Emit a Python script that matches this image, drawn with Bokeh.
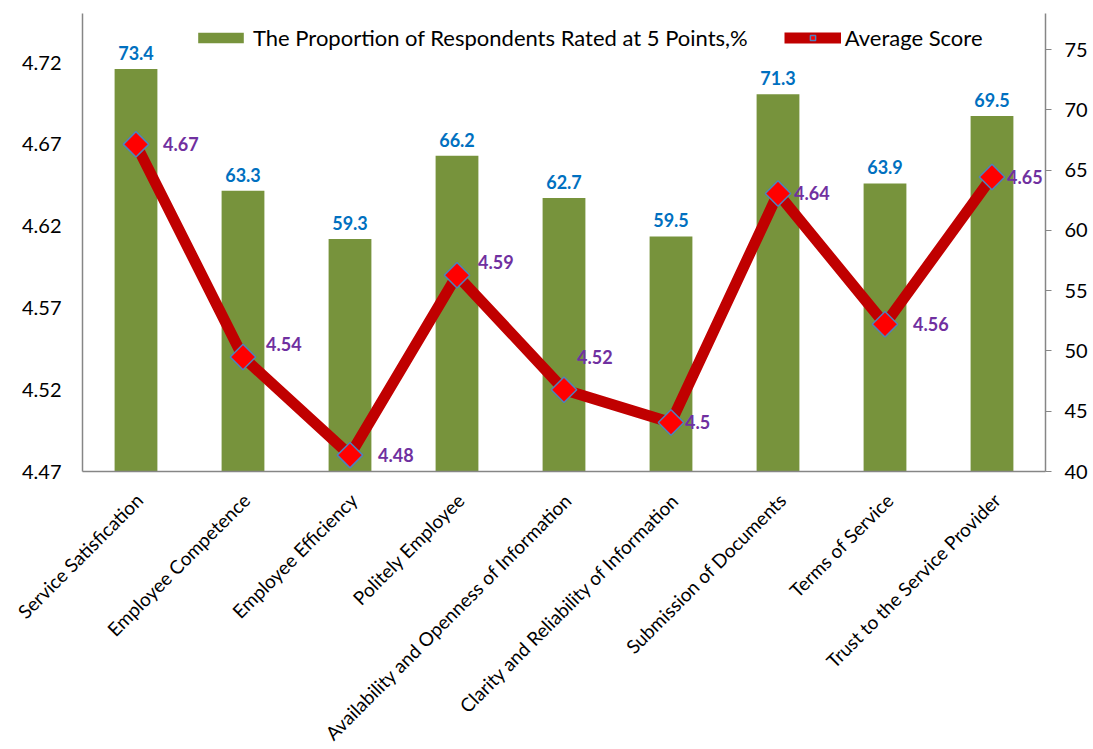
import math
from bokeh.plotting import figure
from bokeh.layouts import column
from bokeh.models import (Range1d, LinearAxis, FixedTicker, ColumnDataSource, Legend,
                          LegendItem)
from bokeh.core.properties import value
from bokeh.embed import file_html
from bokeh.resources import INLINE

categories = ["Service Satisfication", "Employee Competence", "Employee Efficiency",
              "Politely Employee", "Availability and Openness of Information",
              "Clarity and Reliability of Information", "Submission of Documents",
              "Terms of Service", "Trust to the Service Provider"]
proportion = [73.4, 63.3, 59.3, 66.2, 62.7, 59.5, 71.3, 63.9, 69.5]
avg_score = [4.67, 4.54, 4.48, 4.59, 4.52, 4.5, 4.64, 4.56, 4.65]
left_ticks = [4.47, 4.52, 4.57, 4.62, 4.67, 4.72]
right_ticks = [40, 45, 50, 55, 60, 65, 70, 75]

# label placement offsets (screen px; positive dy = down) for the score labels
score_dx = [27, 23, 28, 21, 13, 14, 16, 28, 15]
score_dy = [0, -13, 0, -13, -33, 0, 0, 0, 0]

FONT = "Lato"
xs = [i + 0.5 for i in range(len(categories))]

# layout (px)
W = 1090
B_LEFT, B_RIGHT, B_TOP, B_BOTTOM = 82, 43, 13, 14
FRAME_H = 458
MAIN_H = B_TOP + FRAME_H + B_BOTTOM
STRIP_H = 749 - MAIN_H
LABEL_DROP = 25   # px below the x axis line to the end of each category label

p = figure(width=W, height=MAIN_H, output_backend="svg", toolbar_location=None,
           x_range=Range1d(0, len(categories)), y_range=Range1d(4.47, 4.75),
           min_border_left=B_LEFT, min_border_right=B_RIGHT, min_border_top=B_TOP,
           min_border_bottom=B_BOTTOM)
p.frame_align = False
p.outline_line_color = None
p.grid.visible = False
p.extra_y_ranges = {"pct": Range1d(40, 78)}

bar_src = ColumnDataSource(dict(x=xs, top=proportion, lbl=[f"{v:g}" for v in proportion]))
bars = p.vbar(x="x", top="top", bottom=40, width=0.4, y_range_name="pct", source=bar_src,
              fill_color="#77933C", line_color=None)
p.text(x="x", y="top", text="lbl", source=bar_src, y_range_name="pct",
       text_align="center", text_baseline="bottom", y_offset=-9,
       text_color="#0070C0", text_font=value(FONT), text_font_size="18px", text_font_style="bold")

line_src = ColumnDataSource(dict(x=xs, y=avg_score, lbl=[f"{v:g}" for v in avg_score],
                                 dx=score_dx, dy=score_dy))
ln = p.line(x="x", y="y", source=line_src, line_color="#C00000", line_width=11)
mk = p.scatter(x="x", y="y", source=line_src, marker="square", size=18, angle=math.pi / 4,
               fill_color="#FF0000", line_color="#4F81BD", line_width=1.5)
p.text(x="x", y="y", text="lbl", source=line_src, x_offset="dx", y_offset="dy",
       text_align="left", text_baseline="middle",
       text_color="#7030A0", text_font=value(FONT), text_font_size="18px", text_font_style="bold")

# axes
p.xaxis.ticker = FixedTicker(ticks=xs)
p.xaxis.major_label_overrides = {x: "" for x in xs}
p.xaxis.major_label_text_font_size = "0px"
p.xaxis.major_label_standoff = 0
p.xaxis.major_tick_line_color = None
p.xaxis.major_tick_out = 0
p.xaxis.minor_tick_line_color = None
p.xaxis.axis_line_color = "#868686"
p.xaxis.axis_line_width = 1.5

p.yaxis.ticker = FixedTicker(ticks=left_ticks)
p.yaxis.major_tick_line_color = None
p.yaxis.major_tick_out = 0
p.yaxis.minor_tick_line_color = None
p.yaxis.axis_line_color = "#868686"
p.yaxis.axis_line_width = 1.5
p.yaxis.major_label_text_font = FONT
p.yaxis.major_label_text_font_size = "20px"
p.yaxis.major_label_text_color = "#000000"
p.yaxis.major_label_standoff = 21

ra = LinearAxis(y_range_name="pct", ticker=FixedTicker(ticks=right_ticks))
ra.major_tick_out = 6
ra.major_tick_in = 0
ra.major_tick_line_color = "#868686"
ra.minor_tick_line_color = None
ra.axis_line_color = "#868686"
ra.axis_line_width = 1.5
ra.major_label_text_font = FONT
ra.major_label_text_font_size = "20px"
ra.major_label_text_color = "#000000"
ra.major_label_standoff = 13
p.add_layout(ra, "right")

legend = Legend(items=[
    LegendItem(label="The Proportion of Respondents Rated at 5 Points,%", renderers=[bars]),
    LegendItem(label="Average Score", renderers=[ln, mk]),
], location=(110, 420), orientation="horizontal")
legend.border_line_color = None
legend.background_fill_alpha = 0
legend.label_text_font = FONT
legend.label_text_font_size = "22px"
legend.label_text_color = "#000000"
legend.glyph_width = 57
legend.glyph_height = 13
legend.spacing = 36
legend.margin = 0
legend.padding = 0
legend.label_standoff = 4
p.add_layout(legend, "center")

# category label strip below the chart, sharing the category positions
unit = (W - B_LEFT - B_RIGHT) / len(categories)
strip = figure(width=W, height=STRIP_H, output_backend="svg", toolbar_location=None,
               x_range=Range1d(-B_LEFT / unit, len(categories) + B_RIGHT / unit),
               y_range=Range1d(-STRIP_H, 0), x_axis_type=None, y_axis_type=None,
               min_border=0)
strip.frame_align = False
strip.outline_line_color = None
strip.grid.visible = False
cat_src = ColumnDataSource(dict(x=xs, lbl=categories))
strip.text(x="x", y=-(LABEL_DROP - B_BOTTOM), text="lbl", source=cat_src, x_offset=3,
           angle=math.pi / 4, text_align="right", text_baseline="middle",
           text_color="#000000", text_font=value(FONT), text_font_size="19px")

layout = column(p, strip, spacing=0)
open("out.html", "w").write(file_html(layout, INLINE))
